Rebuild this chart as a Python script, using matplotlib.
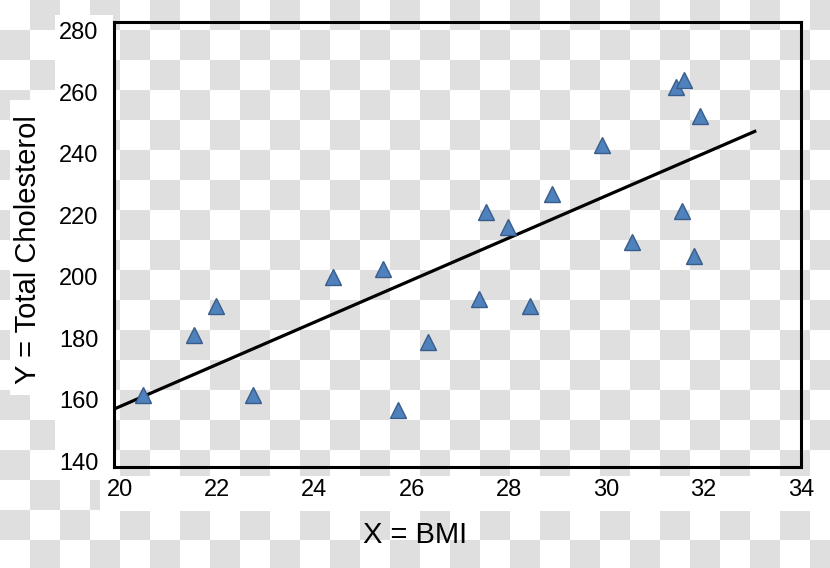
import numpy as np
import matplotlib
matplotlib.use("Agg")
import matplotlib.pyplot as plt

# BMI vs total cholesterol
bmi = [20.47, 21.52, 21.97, 22.73, 24.38, 25.41, 25.72, 26.33, 27.38, 27.52,
       27.98, 28.43, 28.88, 29.91, 30.53, 31.43, 31.60, 31.55, 31.80, 31.92]
chol = [161.5, 181.0, 190.5, 161.5, 199.9, 202.5, 156.6, 178.7, 192.8, 221.1,
        216.2, 190.5, 226.9, 242.9, 211.3, 261.8, 264.1, 221.4, 206.8, 252.3]

# regression line end points
fit_x = [19.88, 33.08]
fit_y = [156.9, 247.5]

x_ticks = [20, 22, 24, 26, 28, 30, 32, 34]
y_ticks = [140, 160, 180, 200, 220, 240, 260, 280]

plt.rcParams['font.family'] = ['Liberation Sans', 'DejaVu Sans']

W, H = 830, 568
fig = plt.figure(figsize=(W / 100, H / 100), dpi=100)

# transparent-png checkerboard behind everything
rows, cols = np.indices((H, W))
grey = ((rows // 30 + cols // 30) % 2 == 1)
bg = np.ones((H, W, 3))
bg[grey] = 0.878
# white patches behind the labels
bg[15:480, 55:113] = 1.0
bg[100:395, 10:113] = 1.0
bg[476:511, 100:] = 1.0
fig.figimage(bg, 0, 0, origin='upper', zorder=0)

ax = fig.add_axes([114 / W, 1 - 467 / H, (801 - 114) / W, (467 - 22) / H])
ax.set_zorder(5)
ax.set_facecolor('none')

ax.plot(fit_x, fit_y, color='black', lw=2.3, solid_capstyle='butt', zorder=2)
ax.plot(bmi, chol, linestyle='none', marker='^', ms=11,
        mfc='#4F81BD', mec='#385D8A', mew=1, zorder=3)

ax.set_xlim(19.88, 34.0)
ax.set_ylim(138.05, 282.9)
ax.set_xticks(x_ticks)
ax.set_yticks(y_ticks)
ax.tick_params(length=0, labelsize=17)
ax.tick_params(axis='x', pad=9)
ax.tick_params(axis='y', pad=11)
for s in ax.spines.values():
    s.set_linewidth(2.2)
    s.set_color('black')

fig.text(415 / W, 1 - 535 / H, 'X = BMI', fontsize=21, ha='center', va='center', zorder=6)
fig.text(28 / W, 1 - 250 / H, 'Y = Total Cholesterol', fontsize=21,
         ha='center', va='center', rotation=90, zorder=6)

fig.savefig('out.png', dpi=100)
